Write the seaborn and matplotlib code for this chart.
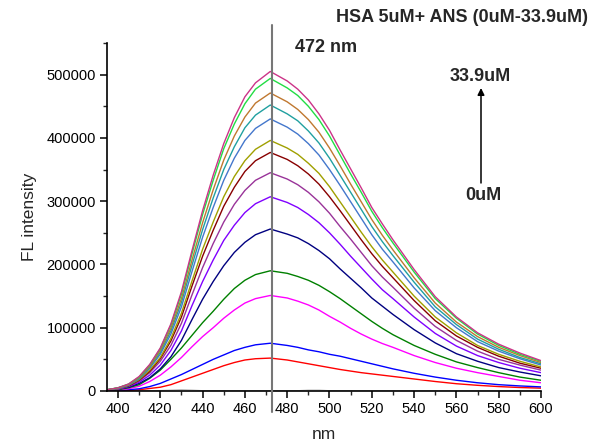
import numpy as np
import pandas as pd
import matplotlib
matplotlib.use("Agg")
import matplotlib.pyplot as plt
import matplotlib.transforms as mtransforms
from matplotlib.ticker import MultipleLocator
import seaborn as sns

# ---------------- data ----------------
wavelength = [395, 400, 405, 410, 415, 420, 425, 430, 435, 440, 445, 450, 455,
              460, 465, 472, 480, 485, 490, 495, 500, 505, 510, 515, 520, 525,
              530, 540, 550, 560, 570, 580, 590, 600]

# intensities in thousands, from lowest (0 uM ANS) to highest (33.9 uM ANS)
fl_00 = [0.3, 0.3, 0.4, 0.5, 0.8, 1.0, 1.5, 2.0, 1.5, 0.8, 0.6, 0.5, 0.5,
         0.5, 0.5, 0.5, 0.6, 0.8, 1.5, 1.5, 0.8, 0.5, 0.5, 0.4, 0.4, 0.4,
         0.4, 0.3, 0.3, 0.3, 0.3, 0.3, 0.3, 0.3]
fl_01 = [0.3, 0.5, 1, 2, 4, 6, 10, 16, 22, 28, 34, 40, 45,
         49, 51, 52, 49, 46, 43, 40, 37, 34, 31.5, 29, 27, 25,
         23, 19, 15, 11.5, 9, 7, 5.5, 4.5]
fl_02 = [0.5, 1, 2, 3.5, 7, 12, 19, 26, 34, 42, 50, 57, 64,
         69, 73, 75.5, 72, 69, 65, 62, 58, 55, 51, 47, 43, 39,
         35, 28, 22, 17, 13, 10, 8, 6.5]
fl_03 = [0.5, 1.5, 3.5, 7.5, 15, 25, 38, 53, 70, 86, 100, 115, 128,
         139, 146, 151, 147, 142, 136, 128, 118, 109, 99, 90, 82, 75,
         69, 56, 45, 36, 29, 23, 17, 13]
fl_04 = [0.5, 2, 5, 10, 20, 33, 50, 68, 88, 108, 126, 145, 162,
         175, 184, 190, 186, 181, 175, 167, 157, 146, 134, 122, 110, 99,
         89, 72, 58, 46, 37, 29, 22, 17]
fl_05 = [1, 3, 6, 12, 21, 35, 54, 80, 113, 145, 173, 198, 219,
         235, 247, 256, 248, 242, 233, 222, 209, 193, 178, 163, 147, 134,
         121, 97, 76, 59, 47, 37, 30, 24]
fl_06 = [1, 3, 7, 14, 25, 41, 64, 95, 135, 173, 207, 238, 262,
         282, 296, 307, 298, 290, 279, 266, 250, 232, 213, 195, 177, 160,
         146, 117, 91, 71, 56, 45, 36, 29]
fl_07 = [1, 3, 8, 16, 29, 47, 72, 107, 152, 195, 233, 267, 295,
         317, 333, 345, 335, 326, 314, 299, 281, 260, 240, 219, 198, 180,
         164, 131, 102, 80, 63, 50, 41, 33]
fl_08 = [2, 4, 8, 17, 31, 51, 79, 117, 166, 213, 254, 292, 322,
         347, 364, 377, 366, 356, 343, 327, 307, 285, 262, 239, 217, 197,
         179, 143, 111, 87, 69, 55, 44, 36]
fl_09 = [2, 4, 9, 18, 33, 53, 83, 123, 174, 224, 267, 307, 339,
         364, 382, 396, 384, 374, 360, 344, 323, 299, 275, 251, 228, 207,
         188, 150, 117, 92, 72, 58, 47, 38]
fl_10 = [2, 4, 9, 19, 36, 58, 90, 133, 189, 243, 290, 333, 368,
         396, 415, 430, 417, 406, 391, 373, 350, 325, 299, 273, 247, 224,
         204, 163, 127, 100, 78, 63, 51, 41]
fl_11 = [2, 5, 10, 20, 38, 61, 95, 140, 199, 255, 305, 350, 386,
         416, 436, 452, 438, 427, 411, 392, 368, 341, 314, 287, 260, 236,
         214, 172, 133, 105, 82, 66, 53, 43]
fl_12 = [2, 5, 10, 21, 39, 64, 99, 146, 207, 266, 318, 365, 403,
         433, 455, 471, 457, 445, 429, 409, 384, 356, 327, 299, 271, 246,
         223, 179, 139, 109, 86, 69, 56, 45]
fl_13 = [2, 5, 11, 22, 41, 67, 104, 153, 217, 279, 333, 383, 422,
         454, 477, 494, 479, 467, 450, 429, 403, 373, 343, 314, 284, 258,
         234, 188, 146, 115, 90, 72, 58, 47]
fl_14 = [2, 5, 11, 23, 42, 68, 106, 157, 222, 285, 341, 391, 432,
         465, 487, 505, 490, 477, 460, 438, 412, 381, 351, 321, 290, 264,
         239, 192, 149, 117, 92, 74, 60, 48]

series_names = ["s00", "s01", "s02", "s03", "s04", "s05", "s06", "s07",
                "s08", "s09", "s10", "s11", "s12", "s13", "s14"]
series_vals = [fl_00, fl_01, fl_02, fl_03, fl_04, fl_05, fl_06, fl_07,
               fl_08, fl_09, fl_10, fl_11, fl_12, fl_13, fl_14]
colors = ["#606060", "#FF0000", "#0000FF", "#FF00FF", "#008000", "#000080",
          "#8000FF", "#993399", "#880000", "#A0A000", "#4477CC", "#20A0A0",
          "#C07830", "#22DD44", "#CC3388"]

peak_nm = 473
y_ticks = [0, 100000, 200000, 300000, 400000, 500000]
x_ticks = [400, 420, 440, 460, 480, 500, 520, 540, 560, 580, 600]

# ---------------- build long-form table ----------------
rows = []
for name, vals in zip(series_names, series_vals):
    for w, v in zip(wavelength, vals):
        rows.append((name, w, v * 1000.0))
df = pd.DataFrame(rows, columns=["series", "nm", "FL"])

# ---------------- style ----------------
sns.set_theme(style="ticks")
plt.rcParams["font.family"] = ["Liberation Sans", "DejaVu Sans"]
plt.rcParams["axes.linewidth"] = 1.2

W, H = 589, 448
fig = plt.figure(figsize=(W / 100, H / 100), dpi=100)
ax = fig.add_axes([107 / W, 1 - 391 / H, (541 - 107) / W, (391 - 43) / H])

sns.lineplot(data=df, x="nm", y="FL", hue="series", palette=colors,
             hue_order=series_names, legend=False, ax=ax, linewidth=1.0,
             estimator=None, sort=True)
# the 0 uM line is faint in the reference
ax.lines[0].set_linewidth(0.6)
ax.lines[0].set_alpha(0.6)

ax.set_xlim(394.8, 600)
ax.set_ylim(0, 550000)
ax.set_xticks(x_ticks)
ax.set_yticks(y_ticks)
ax.set_yticklabels([str(t) for t in y_ticks])
ax.xaxis.set_minor_locator(MultipleLocator(10))
ax.yaxis.set_minor_locator(MultipleLocator(50000))
ax.tick_params(axis="both", which="major", direction="out", length=5,
               width=1.1, labelsize=10.5, colors="black", pad=3)
ax.tick_params(axis="both", which="minor", direction="out", length=3,
               width=1.0)
for s in ["top", "right"]:
    ax.spines[s].set_visible(False)
for s in ["left", "bottom"]:
    ax.spines[s].set_color("black")

ax.set_xlabel("nm", fontsize=12.5, labelpad=8)
ax.set_ylabel("FL intensity", fontsize=12.5, labelpad=7)

# vertical marker at the emission peak
trans = mtransforms.blended_transform_factory(ax.transData, ax.transAxes)
ax.plot([peak_nm, peak_nm], [-(412 - 391) / 348, (391 - 25) / 348],
        transform=trans, color="#777777", lw=1.5, clip_on=False, zorder=5)

# annotations
fig.text(336 / W, 1 - 18 / H, "HSA 5uM+ ANS (0uM-33.9uM)", fontsize=13,
         fontweight="bold", ha="left", va="center")
fig.text(295 / W, 1 - 47 / H, "472 nm", fontsize=13, fontweight="bold",
         ha="left", va="center")
fig.text(450 / W, 1 - 76 / H, "33.9uM", fontsize=13, fontweight="bold",
         ha="left", va="center")
fig.text(465 / W, 1 - 195 / H, "0uM", fontsize=13, fontweight="bold",
         ha="left", va="center")
fig.add_artist(matplotlib.patches.FancyArrowPatch(
    (481 / W, 1 - 183 / H), (481 / W, 1 - 88 / H),
    transform=fig.transFigure, arrowstyle="-|>", mutation_scale=10,
    lw=1.1, color="black", shrinkA=0, shrinkB=0))

fig.savefig("out.png", dpi=100)
